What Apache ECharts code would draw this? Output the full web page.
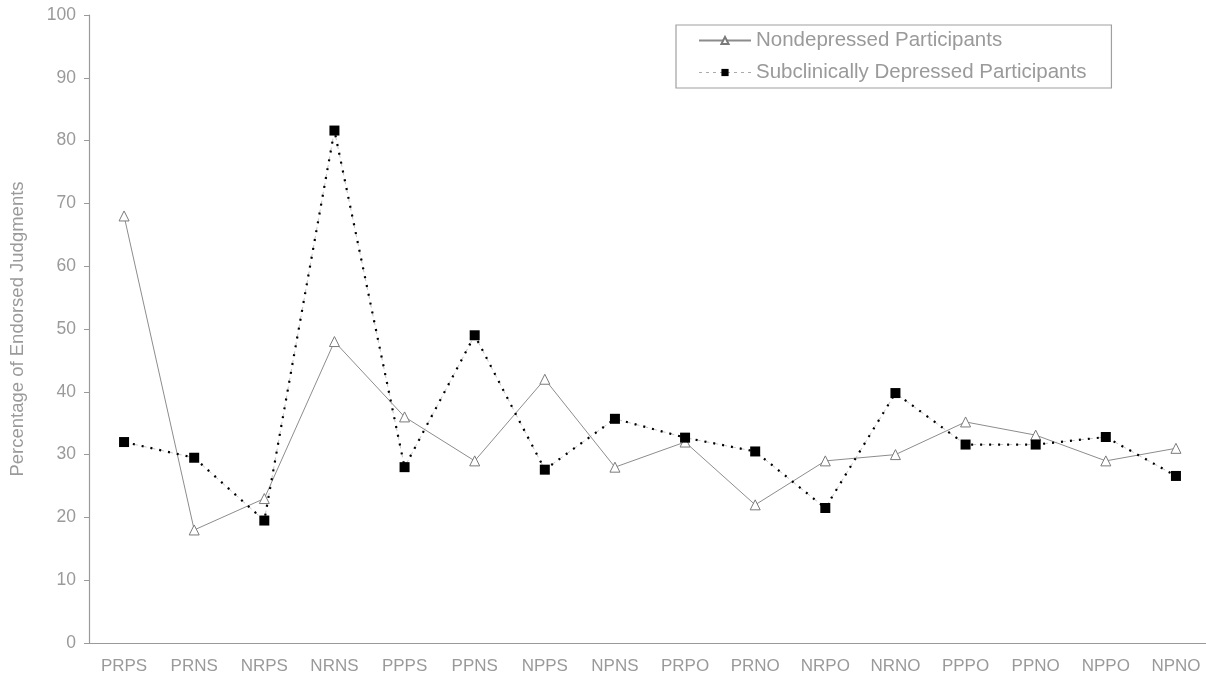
<!DOCTYPE html>
<html><head><meta charset="utf-8">
<script src="https://cdn.jsdelivr.net/npm/echarts@6/dist/echarts.min.js"></script>
<style>html,body{margin:0;padding:0;background:#fff}#c{width:1206px;height:680px}</style>
</head><body><div id="c"></div>
<script>
var categories = ['PRPS','PRNS','NRPS','NRNS','PPPS','PPNS','NPPS','NPNS','PRPO','PRNO','NRPO','NRNO','PPPO','PPNO','NPPO','NPNO'];
var nondepressed = [68, 18, 23, 48, 36, 29, 42, 28, 32, 22, 29, 30, 35.2, 33.1, 29, 31];
var subclinical = [32, 29.5, 19.5, 81.6, 28, 49, 27.6, 35.7, 32.7, 30.5, 21.5, 39.8, 31.6, 31.6, 32.8, 26.6];
var yTicks = [0, 10, 20, 30, 40, 50, 60, 70, 80, 90, 100];
var nameA = 'Nondepressed Participants';
var nameB = 'Subclinically Depressed Participants';
var gray = '#9a9a9a';
var font = 'Liberation Sans, Arial, sans-serif';
var chart = echarts.init(document.getElementById('c'));
chart.setOption({
  animation: false,
  textStyle: {fontFamily: font},
  grid: {left: 89, top: 15, bottom: 37, right: -5, outerBoundsMode: 'none', containLabel: false},
  legend: {
    orient: 'vertical', left: 676, top: 25,
    padding: [5, 25, 5, 22], itemGap: 11,
    borderColor: '#a0a0a0', borderWidth: 1.2,
    itemWidth: 52, itemHeight: 9,
    textStyle: {color: gray, fontSize: 20.5, fontFamily: font},
    data: [
      {name: nameA},
      {name: nameB, lineStyle: {color: '#aaa', width: 1, type: [3, 4]}}
    ]
  },
  xAxis: {
    type: 'category', data: categories,
    axisLine: {lineStyle: {color: gray, width: 1.2}},
    axisTick: {length: 5, lineStyle: {color: gray}},
    axisLabel: {color: gray, fontSize: 17, margin: 15}
  },
  yAxis: {
    type: 'value', min: 0, max: 100, interval: 10,
    name: 'Percentage of Endorsed Judgments', nameLocation: 'middle', nameGap: 62,
    nameTextStyle: {color: gray, fontSize: 18.5},
    splitLine: {show: false},
    axisLine: {show: true, lineStyle: {color: gray, width: 1.2}},
    axisTick: {show: true, length: 5, lineStyle: {color: gray}},
    axisLabel: {color: gray, fontSize: 17.5, margin: 13,
      formatter: function (v) { return yTicks.indexOf(v) >= 0 ? String(v) : ''; }}
  },
  series: [
    {
      name: nameA, type: 'line', data: nondepressed,
      symbol: 'triangle', symbolSize: 10,
      lineStyle: {color: '#8c8c8c', width: 1},
      itemStyle: {color: '#fff', borderColor: '#7a7a7a', borderWidth: 1},
      z: 3
    },
    {
      name: '_dash', type: 'line', data: subclinical,
      symbol: 'none', silent: true,
      lineStyle: {color: '#c4c4c4', width: 1, type: [5, 4]},
      z: 2
    },
    {
      name: nameB, type: 'line', data: subclinical,
      symbol: 'rect', symbolSize: 10,
      lineStyle: {color: '#000', width: 2.2, type: [2, 7]},
      itemStyle: {color: '#000'},
      z: 4
    }
  ]
});
</script></body></html>
